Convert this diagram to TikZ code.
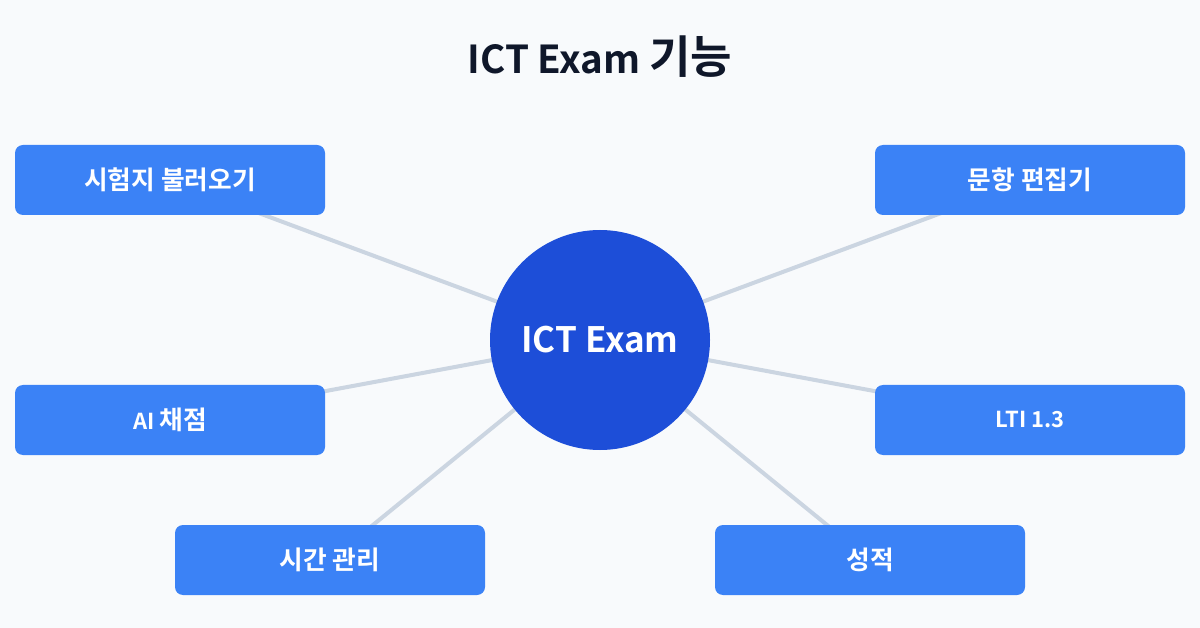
\documentclass[tikz,border=0pt]{standalone}
\usepackage{fontspec}
\setmainfont{Noto Sans CJK KR}[BoldFont={* Bold}]
\newfontfamily\kr{Noto Sans CJK KR Bold}
\newfontfamily\ko[Scale=1.17]{Noto Sans CJK KR Bold}
\definecolor{bgc}{HTML}{F8FAFC}
\definecolor{boxc}{HTML}{3B82F6}
\definecolor{hubc}{HTML}{1D4ED8}
\definecolor{linec}{HTML}{CBD5E1}
\definecolor{titlec}{HTML}{0F172A}
\begin{document}
\begin{tikzpicture}[x=1pt,y=-1pt,
  feat/.style={fill=boxc, rounded corners=8pt, minimum width=310pt, minimum height=70pt, inner sep=0pt, text=white, font=\kr\fontsize{22}{26}\selectfont},
  hub/.style={circle, fill=hubc, minimum size=220pt, inner sep=0pt, text=white, font=\kr\fontsize{35}{40}\selectfont},
  link/.style={draw=linec, line width=4pt}]
\fill[bgc] (0,0) rectangle (1200,628);
\useasboundingbox (0,0) rectangle (1200,628);
\node[font=\kr\fontsize{38.5}{44}\selectfont, text=titlec] (title) at (600,57) {ICT Exam {\ko 기능}};
\coordinate (c) at (600,340);
\coordinate (p1) at (170,180);
\coordinate (p2) at (1030,180);
\coordinate (p3) at (170,420);
\coordinate (p4) at (1030,420);
\coordinate (p5) at (330,560);
\coordinate (p6) at (870,560);
\foreach \p in {p1,p2,p3,p4,p5,p6} \draw[link] (c) -- (\p);
\node[hub] (hub) at (c) {ICT Exam};
\node[feat] (f1) at (p1) {\ko 시험지 불러오기};
\node[feat] (f2) at (p2) {\ko 문항 편집기};
\node[feat] (f3) at (p3) {AI {\ko 채점}};
\node[feat] (f4) at (p4) {LTI 1.3};
\node[feat] (f5) at (p5) {\ko 시간 관리};
\node[feat] (f6) at (p6) {\ko 성적};
\end{tikzpicture}
\end{document}
